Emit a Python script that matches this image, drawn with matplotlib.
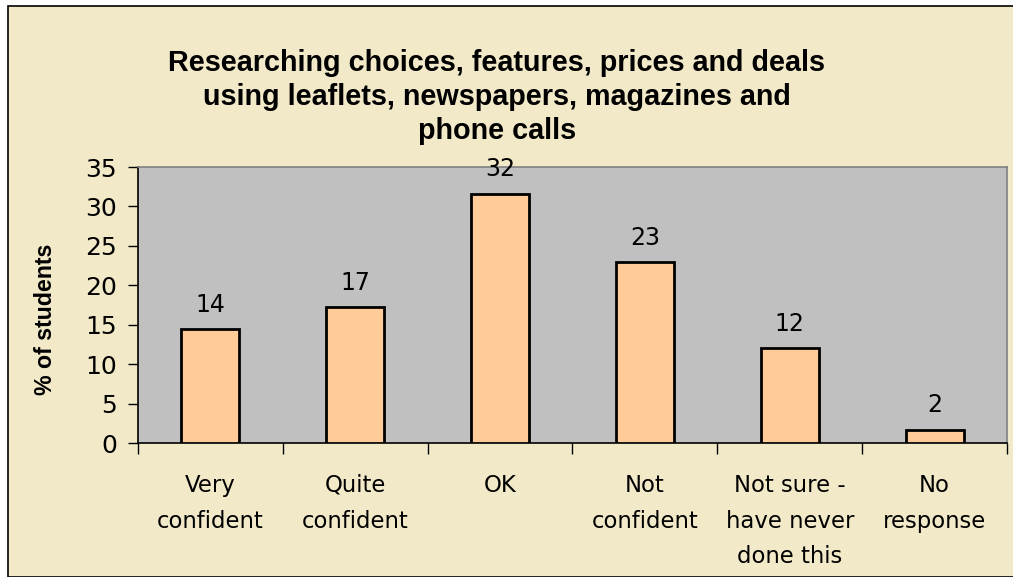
import matplotlib
matplotlib.use('Agg')
import matplotlib.pyplot as plt
from matplotlib.patches import Rectangle

categories = ['Very\nconfident', 'Quite\nconfident', 'OK', 'Not\nconfident',
              'Not sure -\nhave never\ndone this', 'No\nresponse']
values = [14.4, 17.2, 31.6, 22.9, 12.0, 1.7]
yticks = [0, 5, 10, 15, 20, 25, 30, 35]
title = ('Researching choices, features, prices and deals\n'
         'using leaflets, newspapers, magazines and\nphone calls')

beige = '#F2E9C8'
fig = plt.figure(figsize=(10.13, 5.77), dpi=100, facecolor='white')
# chart area background with border
fig.patches.append(Rectangle((8 / 1013, 0), 1.2, 1 - 6 / 577, transform=fig.transFigure,
                             facecolor=beige, edgecolor='black', linewidth=1.2, zorder=-5))

ax = fig.add_axes([0.1362, 0.2322, 0.8579, 0.4783])
ax.set_facecolor('#C0C0C0')

x = list(range(len(values)))
bars = ax.bar(x, values, width=0.4, color='#FFCC99', edgecolor='black', linewidth=2, zorder=3)
ax.bar_label(bars, fmt='%.0f', padding=9, fontsize=17, family='DejaVu Sans')

ax.set_xlim(-0.5, len(values) - 0.5)
ax.set_ylim(0, 35)
ax.set_yticks(yticks)
ax.tick_params(axis='y', length=7, width=1, labelsize=18, pad=8)

ax.set_xticks([i - 0.5 for i in range(len(values) + 1)])
ax.set_xticklabels([])
ax.tick_params(axis='x', which='major', length=8, width=1, direction='out')
ax.set_xticks(x, minor=True)
ax.set_xticklabels(categories, minor=True, fontsize=16.4, linespacing=1.72, va='top')
ax.tick_params(axis='x', which='minor', length=0, pad=22)

for lab in ax.get_yticklabels() + ax.get_xticklabels(minor=True):
    lab.set_family('DejaVu Sans')

ax.spines['left'].set_color('black')
ax.spines['bottom'].set_color('black')
ax.spines['top'].set_color('#808080')
ax.spines['right'].set_color('#808080')
for s in ax.spines.values():
    s.set_linewidth(1.2)

ax.set_ylabel('% of students', fontsize=16.7, fontweight='bold', family='Liberation Sans')
ax.yaxis.set_label_coords(-0.093, 0.449)

fig.text(0.4906, 0.832, title, ha='center', va='center', fontsize=20.7, fontweight='bold',
         family='Liberation Sans', linespacing=1.26)

fig.savefig('out.png', dpi=100, facecolor=fig.get_facecolor())
